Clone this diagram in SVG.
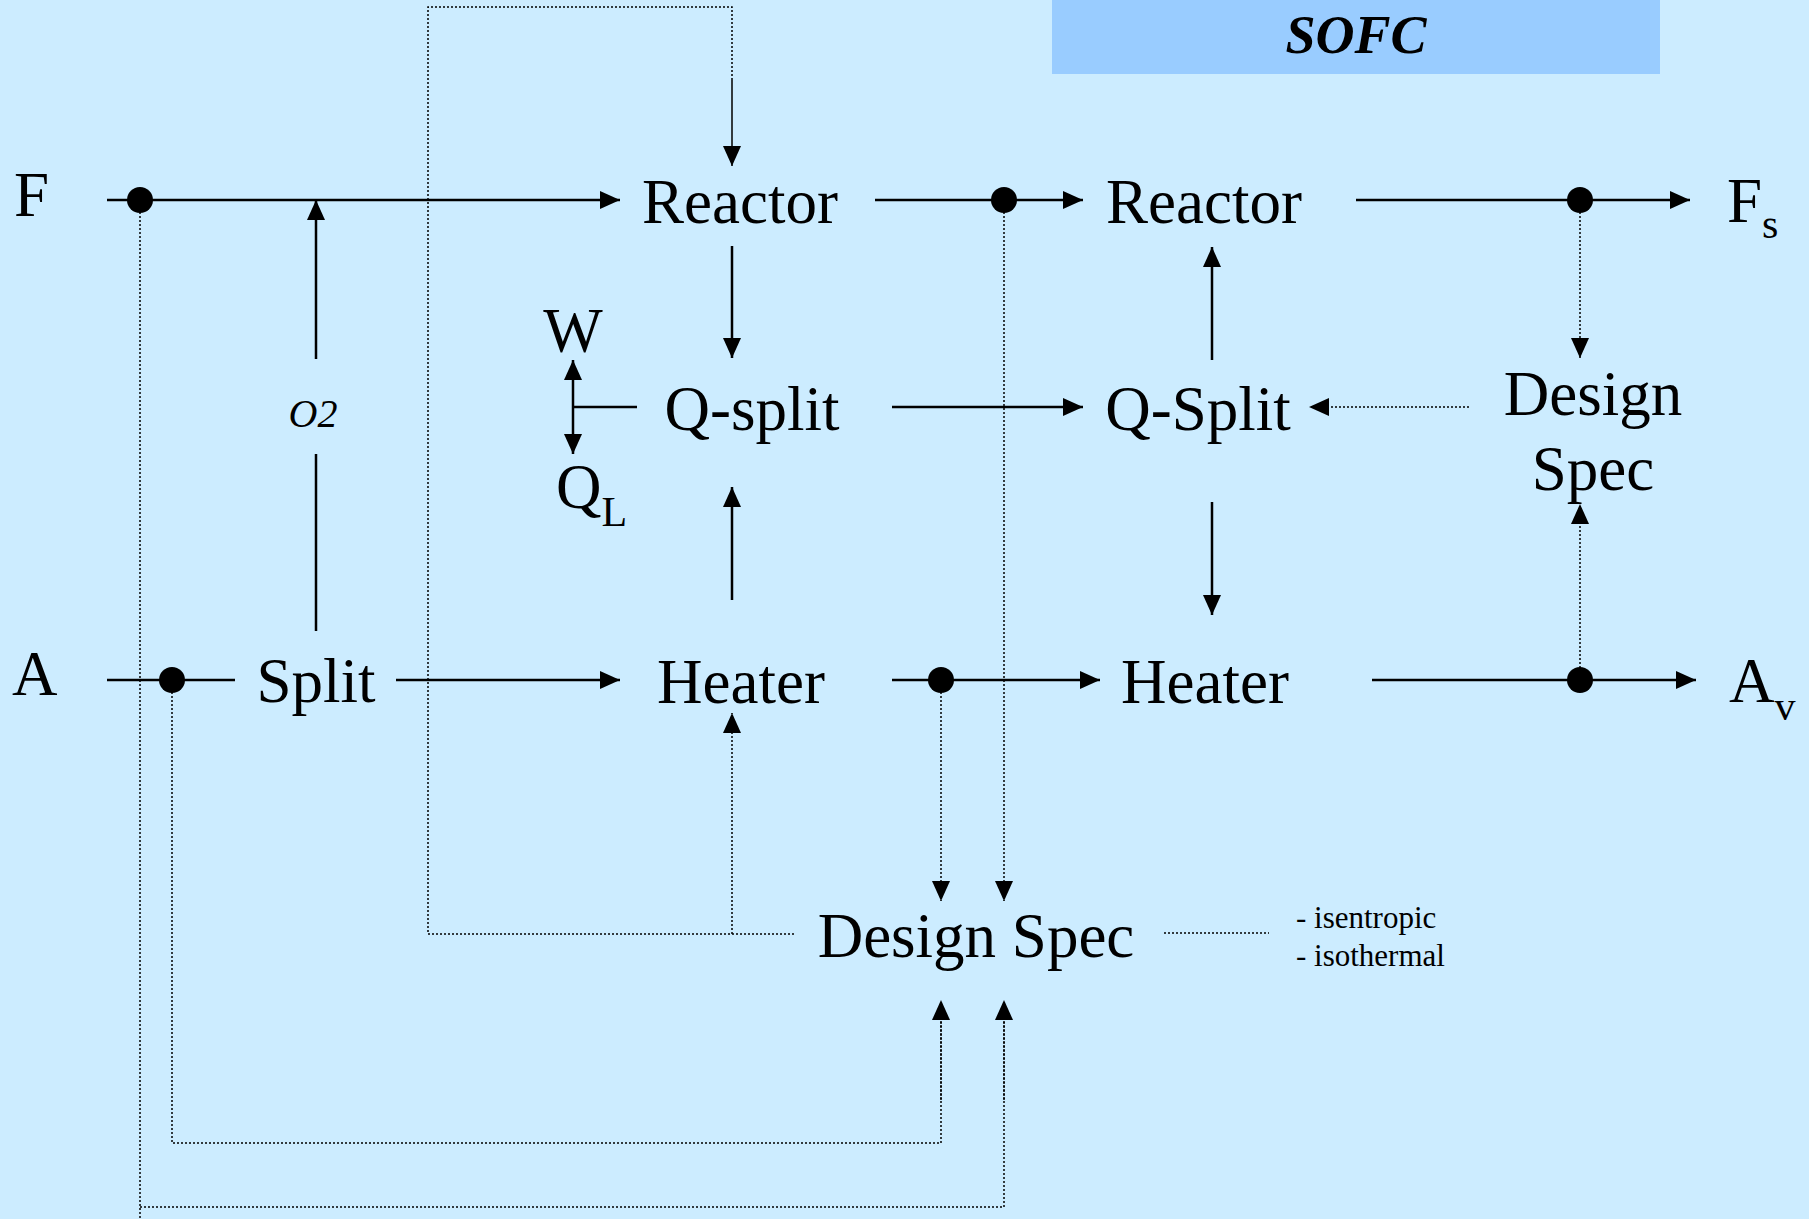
<svg xmlns="http://www.w3.org/2000/svg" width="1809" height="1219" viewBox="0 0 1809 1219">
<defs>
<marker id="ah" markerUnits="userSpaceOnUse" markerWidth="22" markerHeight="20" refX="20" refY="9" orient="auto">
<path d="M0,0 L20,9 L0,18 z" fill="#000"/>
</marker>
<style>
.t{font-family:"Liberation Serif","Times New Roman",serif;fill:#000;}
.big{font-size:63px;}
.s{fill:none;stroke:#000;stroke-width:2.5;}
.d{fill:none;stroke:#000;stroke-width:1.5;stroke-dasharray:2 2;}
.a{marker-end:url(#ah);}
</style>
</defs>
<rect x="0" y="0" width="1809" height="1219" fill="#CCECFF"/>
<g id="title">
<rect x="1052" y="0" width="608" height="74" fill="#99CCFF"/>
<text class="t" x="1356" y="53" text-anchor="middle" font-size="54" font-weight="bold" font-style="italic">SOFC</text>
</g>
<g id="connectors">
<line class="s a" x1="107" y1="200" x2="620" y2="200"/>
<line class="s a" x1="875" y1="200" x2="1083" y2="200"/>
<line class="s a" x1="1356" y1="200" x2="1690" y2="200"/>
<line class="s a" x1="316" y1="359" x2="316" y2="200"/>
<line class="s" x1="316" y1="454" x2="316" y2="631"/>
<line class="s a" x1="732" y1="246" x2="732" y2="358"/>
<line class="s a" x1="732" y1="600" x2="732" y2="487"/>
<line class="s" x1="637" y1="407" x2="573" y2="407"/>
<line class="s a" x1="573" y1="407" x2="573" y2="360"/>
<line class="s a" x1="573" y1="407" x2="573" y2="454"/>
<line class="s a" x1="892" y1="407" x2="1083" y2="407"/>
<line class="d a" x1="1469" y1="407" x2="1309" y2="407"/>
<line class="s a" x1="1212" y1="360" x2="1212" y2="247"/>
<line class="s a" x1="1212" y1="502" x2="1212" y2="615"/>
<line class="d a" x1="1580" y1="200" x2="1580" y2="358"/>
<line class="d a" x1="1580" y1="680" x2="1580" y2="504"/>
<line class="s" x1="107" y1="680" x2="235" y2="680"/>
<line class="s a" x1="396" y1="680" x2="620" y2="680"/>
<line class="s a" x1="892" y1="680" x2="1100" y2="680"/>
<line class="s a" x1="1372" y1="680" x2="1696" y2="680"/>
<polyline class="d" points="794,934 428,934 428,7 732,7 732,166"/>
<line class="d a" x1="732" y1="80" x2="732" y2="166"/>
<line class="d a" x1="732" y1="934" x2="732" y2="713"/>
<line class="d a" x1="941" y1="680" x2="941" y2="901"/>
<line class="d a" x1="1004" y1="200" x2="1004" y2="901"/>
<polyline class="d" points="172,680 172,1143 941,1143 941,1010"/>
<line class="d a" x1="941" y1="1100" x2="941" y2="1000"/>
<polyline class="d" points="140,200 140,1219"/>
<polyline class="d" points="140,1207 1004,1207 1004,1010"/>
<line class="d a" x1="1004" y1="1100" x2="1004" y2="1000"/>
<line class="d" x1="1164" y1="933" x2="1269" y2="933"/>
<circle cx="140" cy="200" r="13"/>
<circle cx="1004" cy="200" r="13"/>
<circle cx="1580" cy="200" r="13"/>
<circle cx="172" cy="680" r="13"/>
<circle cx="941" cy="680" r="13"/>
<circle cx="1580" cy="680" r="13"/>
</g>
<g id="F"><text class="t" x="14" y="216" font-size="63">F</text></g>
<g id="A"><text class="t" x="12" y="695" font-size="63">A</text></g>
<g id="Fs"><text class="t" x="1727" y="222" font-size="63">F<tspan font-size="42" dy="16">s</tspan></text></g>
<g id="Av"><text class="t" x="1729" y="702" font-size="63">A<tspan font-size="42" dy="18">v</tspan></text></g>
<g id="reactor1"><text class="t big" x="740" y="223" text-anchor="middle">Reactor</text></g>
<g id="reactor2"><text class="t big" x="1204" y="223" text-anchor="middle">Reactor</text></g>
<g id="qsplit1"><text class="t big" x="752" y="430" text-anchor="middle">Q-split</text></g>
<g id="qsplit2"><text class="t big" x="1198" y="430" text-anchor="middle">Q-Split</text></g>
<g id="designspec1"><text class="t big" x="1593" y="415" text-anchor="middle">Design</text><text class="t big" x="1593" y="490" text-anchor="middle">Spec</text></g>
<g id="W"><text class="t" x="573" y="352" font-size="63" text-anchor="middle">W</text></g>
<g id="QL"><text class="t" x="556" y="508" font-size="63">Q<tspan font-size="42" dy="18">L</tspan></text></g>
<g id="O2"><text class="t" x="313" y="427" font-size="40" font-style="italic" text-anchor="middle">O2</text></g>
<g id="split"><text class="t big" x="316" y="702" text-anchor="middle">Split</text></g>
<g id="heater1"><text class="t big" x="741" y="703" text-anchor="middle">Heater</text></g>
<g id="heater2"><text class="t big" x="1205" y="703" text-anchor="middle">Heater</text></g>
<g id="designspec2"><text class="t big" x="976" y="957" text-anchor="middle">Design Spec</text></g>
<g id="note"><text class="t" x="1296" y="928" font-size="31">- isentropic</text><text class="t" x="1296" y="966" font-size="31">- isothermal</text></g>
</svg>
